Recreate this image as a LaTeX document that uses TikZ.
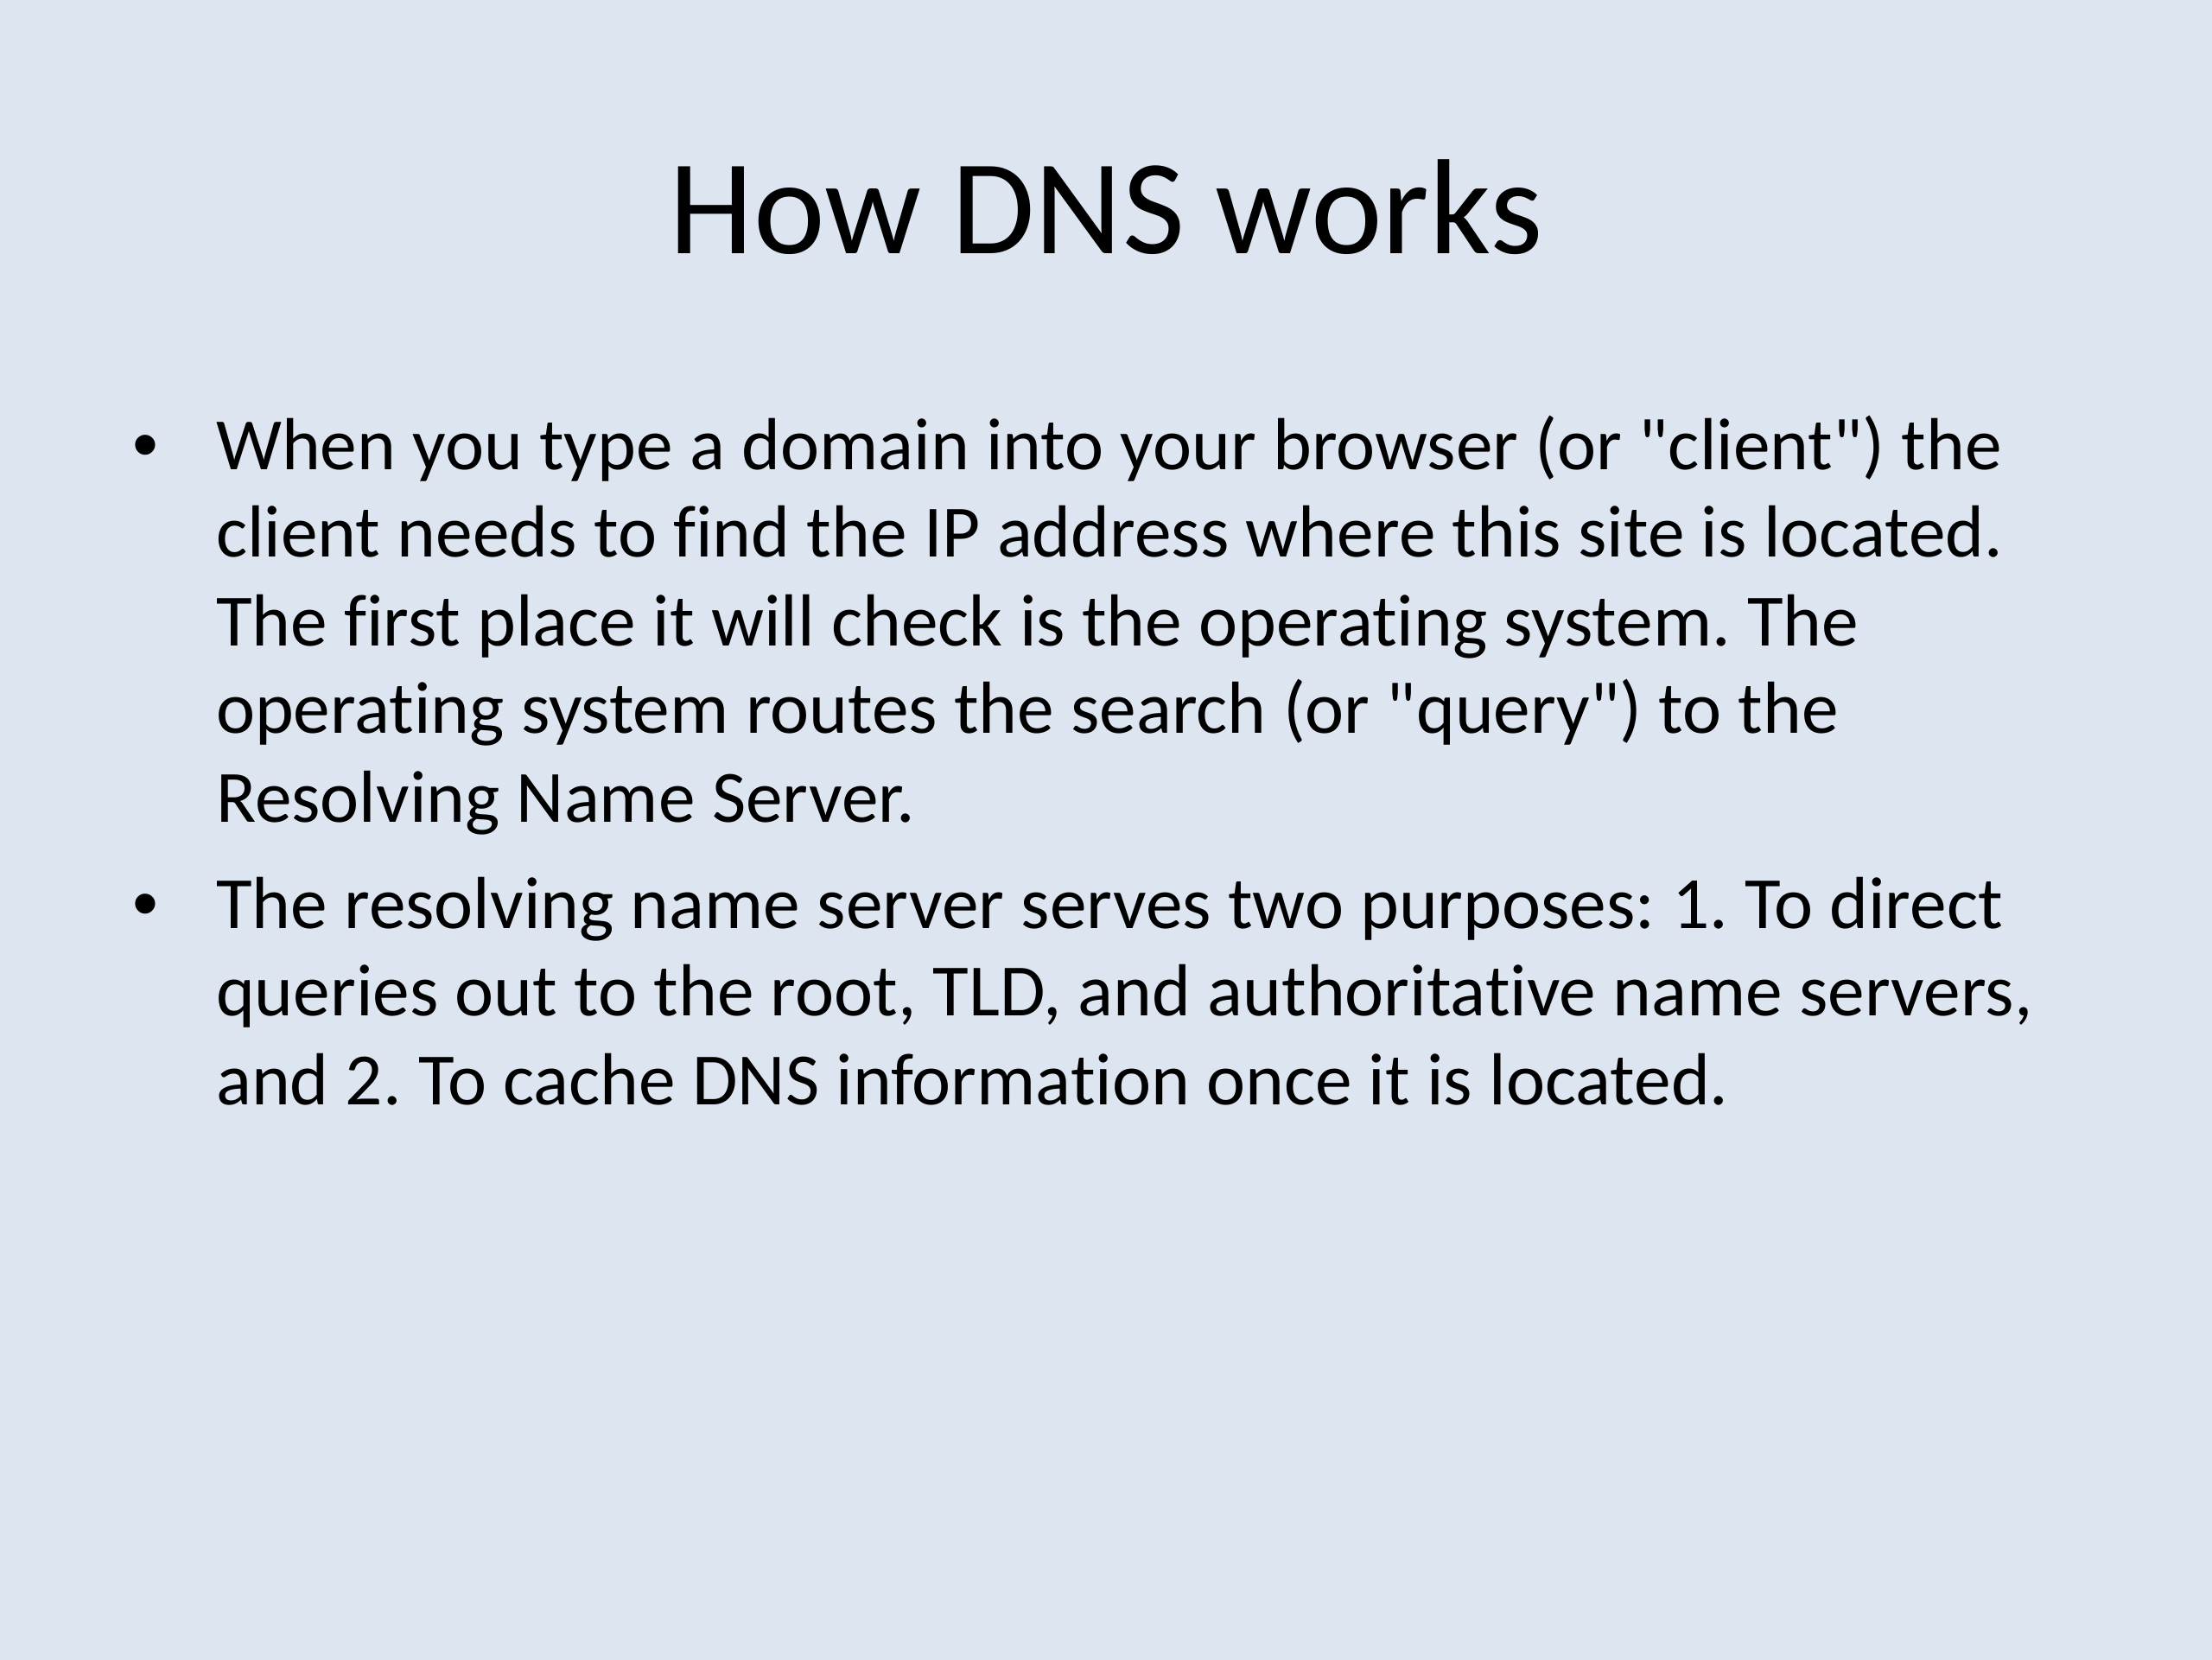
\documentclass[tikz,border=0pt]{standalone}
\usepackage{fontspec}
\setmainfont{Carlito}[Ligatures={TeXOff,CommonOff}]
\newfontfamily\bulletfont{Liberation Sans}
\definecolor{slidebg}{RGB}{221,230,240}
\tikzset{
  titletext/.style={inner sep=0pt, anchor=base, font=\fontsize{96}{110}\selectfont},
  bodyline/.style={inner sep=0pt, anchor=base west, font=\fontsize{52.3}{63}\selectfont},
  bulletmark/.style={inner sep=0pt, anchor=base, font=\bulletfont\fontsize{52.3}{63}\selectfont}
}
\begin{document}
\frenchspacing
\begin{tikzpicture}[x=1pt,y=1pt]
\useasboundingbox (0,0) rectangle (1568,-1176);
\fill[slidebg] (-4,4) rectangle (1572,-1180);
\node[titletext] (title) at (784,-180) {How DNS works};
\node[bulletmark] (b1) at (103,-333) {•};
\node[bodyline] (l1) at (153,-333) {When you type a domain into your browser (or "client") the};
\node[bodyline] (l2) at (153,-395) {client needs to find the IP address where this site is located.};
\node[bodyline] (l3) at (153,-458) {The first place it will check is the operating system. The};
\node[bodyline] (l4) at (153,-520) {operating system routes the search (or "query") to the};
\node[bodyline] (l5) at (153,-583) {Resolving Name Server.};
\node[bulletmark] (b2) at (103,-658) {•};
\node[bodyline] (l6) at (153,-658) {The resolving name server serves two purposes: 1. To direct};
\node[bodyline] (l7) at (153,-720) {queries out to the root, TLD, and authoritative name servers,};
\node[bodyline] (l8) at (153,-783) {and 2. To cache DNS information once it is located.};
\end{tikzpicture}
\end{document}
